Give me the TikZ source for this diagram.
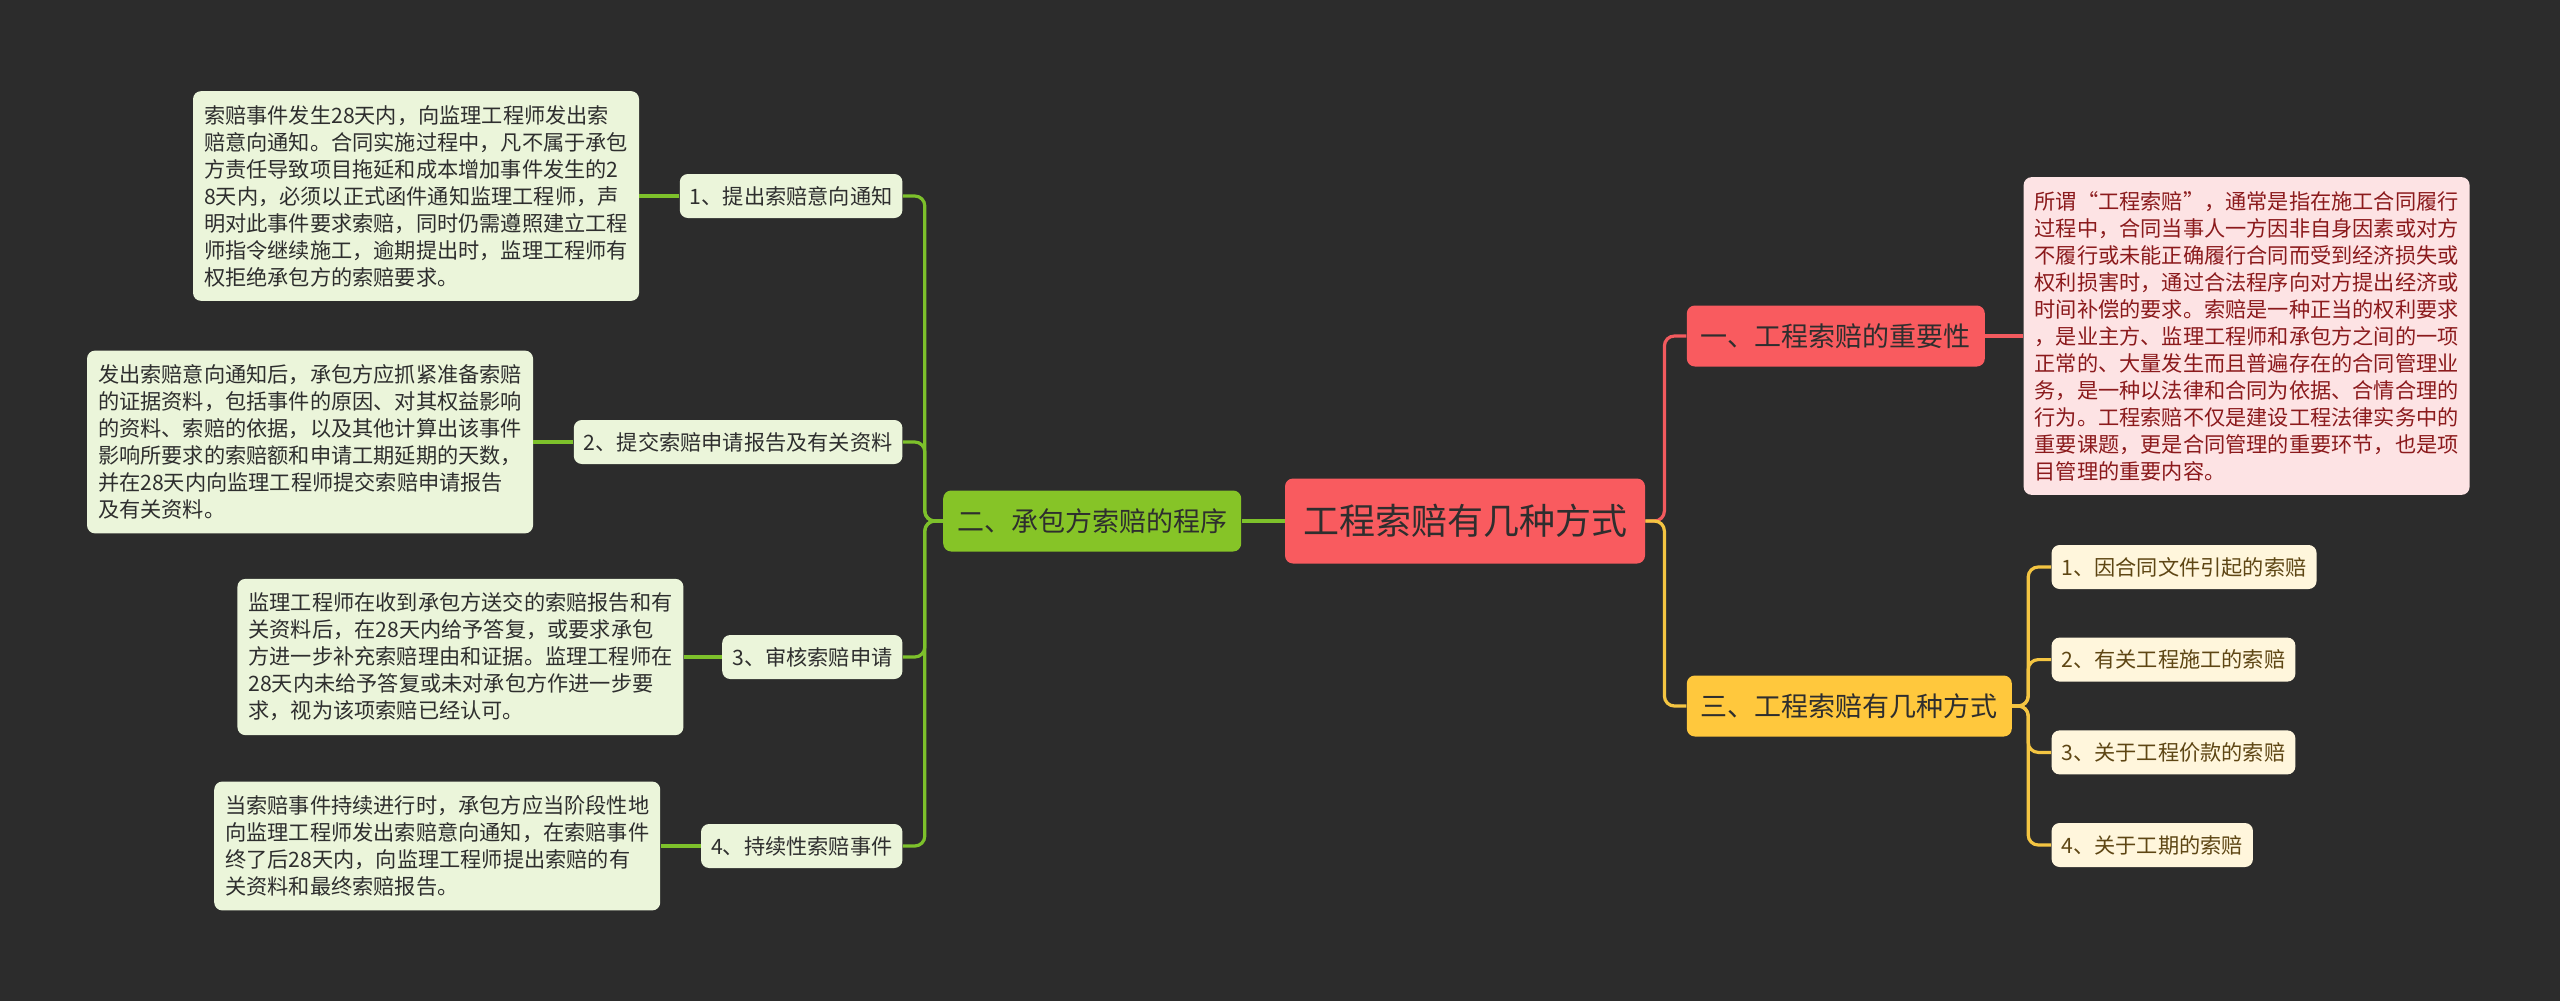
\documentclass[tikz,border=0pt]{standalone}
\usepackage{fontspec}
\setmainfont{Noto Sans CJK SC}
\usetikzlibrary{positioning}
\definecolor{bgdark}{HTML}{2C2C2C}
\definecolor{rootred}{HTML}{F95B5F}
\definecolor{grnfill}{HTML}{86C427}
\definecolor{grnleaf}{HTML}{EBF5DA}
\definecolor{grnline}{HTML}{7DC12B}
\definecolor{redline}{HTML}{F25A5E}
\definecolor{pinkfill}{HTML}{FDE3E4}
\definecolor{pinktext}{HTML}{8B1A1C}
\definecolor{goldfill}{HTML}{FFC83D}
\definecolor{goldleaf}{HTML}{FFF6DC}
\definecolor{goldline}{HTML}{F4C542}
\definecolor{goldtext}{HTML}{5E4614}
\tikzset{
  cm base/.style={
    rectangle, rounded corners=4pt, align=left, text=black!82
  },
  cm root/.style={
    cm base, fill=rootred, font=\fontsize{18pt}{20pt}\selectfont,
    inner xsep=9pt, minimum height=42.5pt
  },
  cm topic/.style={
    cm base, font=\fontsize{13.5pt}{15pt}\selectfont,
    inner xsep=7pt, minimum height=30.5pt
  },
  cm leaf/.style={
    cm base, font=\fontsize{10.6pt}{13.5pt}\selectfont,
    inner xsep=5pt, minimum height=22pt
  },
  cm note/.style={
    cm base, font=\fontsize{10.6pt}{13.5pt}\selectfont,
    inner xsep=5.5pt, inner ysep=7pt
  },
  cm link/.style={
    line width=1.6pt, rounded corners=5pt
  }
}

\begin{document}
\begin{tikzpicture}[x=0.5pt, y=-0.5pt]
  \fill[bgdark] (0,0) rectangle (2560,1001);

  % centre
  \node (root) [cm root] at (1465,521) {工程索赔有几种方式};

  % left branch
  \node (b2) [cm topic, fill=grnfill, left=21.5pt of root] {二、承包方索赔的程序};
  \node (it1) [cm leaf, fill=grnleaf, left=20pt of b2, yshift=162.5pt] {1、提出索赔意向通知};
  \node (it2) [cm leaf, fill=grnleaf, left=20pt of b2, yshift=39.5pt] {2、提交索赔申请报告及有关资料};
  \node (it3) [cm leaf, fill=grnleaf, left=20pt of b2, yshift=-68pt] {3、审核索赔申请};
  \node (it4) [cm leaf, fill=grnleaf, left=20pt of b2, yshift=-162.5pt] {4、持续性索赔事件};
  \node (d1) [cm note, fill=grnleaf, left=20pt of it1] {索赔事件发生28天内，向监理工程师发出索\\赔意向通知。合同实施过程中，凡不属于承包\\方责任导致项目拖延和成本增加事件发生的2\\8天内，必须以正式函件通知监理工程师，声\\明对此事件要求索赔，同时仍需遵照建立工程\\师指令继续施工，逾期提出时，监理工程师有\\权拒绝承包方的索赔要求。};
  \node (d2) [cm note, fill=grnleaf, left=20pt of it2] {发出索赔意向通知后，承包方应抓紧准备索赔\\的证据资料，包括事件的原因、对其权益影响\\的资料、索赔的依据，以及其他计算出该事件\\影响所要求的索赔额和申请工期延期的天数，\\并在28天内向监理工程师提交索赔申请报告\\及有关资料。};
  \node (d3) [cm note, fill=grnleaf, left=19pt of it3] {监理工程师在收到承包方送交的索赔报告和有\\关资料后，在28天内给予答复，或要求承包\\方进一步补充索赔理由和证据。监理工程师在\\28天内未给予答复或未对承包方作进一步要\\求，视为该项索赔已经认可。};
  \node (d4) [cm note, fill=grnleaf, left=20pt of it4] {当索赔事件持续进行时，承包方应当阶段性地\\向监理工程师发出索赔意向通知，在索赔事件\\终了后28天内，向监理工程师提出索赔的有\\关资料和最终索赔报告。};

  % right branch
  \node (b1) [cm topic, fill=rootred, right=20.5pt of root, yshift=92.5pt] {一、工程索赔的重要性};
  \node (b3) [cm topic, fill=goldfill, right=20.5pt of root, yshift=-92.5pt] {三、工程索赔有几种方式};
  \node (n1) [cm note, fill=pinkfill, text=pinktext, right=19pt of b1] {所谓“工程索赔”，通常是指在施工合同履行\\过程中，合同当事人一方因非自身因素或对方\\不履行或未能正确履行合同而受到经济损失或\\权利损害时，通过合法程序向对方提出经济或\\时间补偿的要求。索赔是一种正当的权利要求\\，是业主方、监理工程师和承包方之间的一项\\正常的、大量发生而且普遍存在的合同管理业\\务，是一种以法律和合同为依据、合情合理的\\行为。工程索赔不仅是建设工程法律实务中的\\重要课题，更是合同管理的重要环节，也是项\\目管理的重要内容。};
  \node (r1) [cm leaf, fill=goldleaf, text=goldtext, right=19.5pt of b3, yshift=69.5pt] {1、因合同文件引起的索赔};
  \node (r2) [cm leaf, fill=goldleaf, text=goldtext, right=19.5pt of b3, yshift=23.2pt] {2、有关工程施工的索赔};
  \node (r3) [cm leaf, fill=goldleaf, text=goldtext, right=19.5pt of b3, yshift=-23.2pt] {3、关于工程价款的索赔};
  \node (r4) [cm leaf, fill=goldleaf, text=goldtext, right=19.5pt of b3, yshift=-69.5pt] {4、关于工期的索赔};

  % connectors
  \draw [cm link, grnline] (root) -- (b2);
  \foreach \n in {it1,it2,it3,it4}
    \draw [cm link, grnline] (b2.west) -- ++(-18,0) |- (\n.east);
  \draw [cm link, grnline] (it1) -- (d1);
  \draw [cm link, grnline] (it2) -- (d2);
  \draw [cm link, grnline] (it3) -- (d3);
  \draw [cm link, grnline] (it4) -- (d4);
  \draw [cm link, redline] (root.east) -- ++(19,0) |- (b1.west);
  \draw [cm link, goldline] (root.east) -- ++(19,0) |- (b3.west);
  \draw [cm link, redline] (b1) -- (n1);
  \foreach \n in {r1,r2,r3,r4}
    \draw [cm link, goldline] (b3.east) -- ++(16,0) |- (\n.west);
\end{tikzpicture}
\end{document}
